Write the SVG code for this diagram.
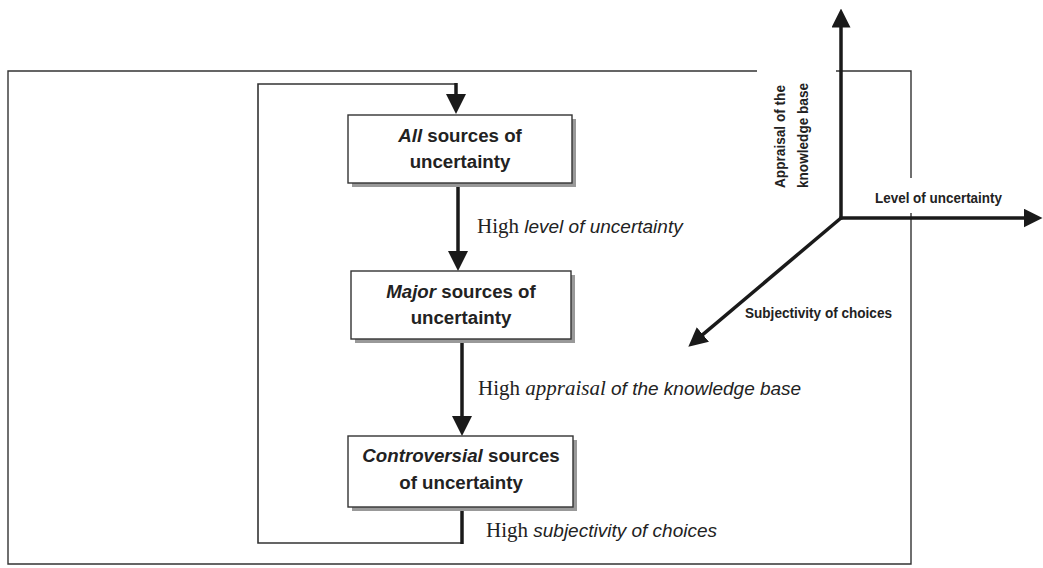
<svg xmlns="http://www.w3.org/2000/svg" width="1043" height="568" viewBox="0 0 1043 568">
<defs>
<marker id="ah" viewBox="0 0 20 20" refX="10" refY="10" markerWidth="20" markerHeight="20" markerUnits="userSpaceOnUse" orient="auto">
<path d="M0,0 L20,10 L0,20 z" fill="#1a1a1a"/>
</marker>
<marker id="ax" viewBox="0 0 20 20" refX="10" refY="10" markerWidth="19" markerHeight="19" markerUnits="userSpaceOnUse" orient="auto">
<path d="M0,0 L20,10 L0,20 z" fill="#1a1a1a"/>
</marker>
</defs>
<style>
.frame{fill:none;stroke:#333;stroke-width:1.4}
.loop{fill:none;stroke:#333;stroke-width:1.6}
.box{fill:#fff;stroke:#333;stroke-width:1.4}
.shadow{fill:#999;stroke:none}
.flow{fill:none;stroke:#1a1a1a;stroke-width:3.5}
.axis{fill:none;stroke:#1a1a1a;stroke-width:3.5}
.bt{font-family:"Liberation Sans",Arial,sans-serif;font-weight:bold;font-size:18.7px;fill:#222;text-anchor:middle}
.lab{font-family:"Liberation Sans",Arial,sans-serif;font-style:italic;font-size:19px;fill:#222}
.tm{font-family:"Liberation Serif","Times New Roman",serif;font-style:normal;font-size:21px}
.tmi{font-family:"Liberation Serif","Times New Roman",serif;font-style:italic;font-size:21px}
.ax{font-family:"Liberation Sans",Arial,sans-serif;font-weight:bold;font-size:15.5px;fill:#222}
</style>
<rect width="1043" height="568" fill="#fff"/>
<g id="frame">
<path class="frame" d="M757,71 H8 V564 H911 V213 M911,178 V71 H836"/>
</g>
<g id="connectors">
<path class="loop" d="M462,543 H258 V84 H457"/>
<line class="flow" x1="462" y1="507" x2="462" y2="544"/>
<line class="flow" x1="456" y1="83" x2="456" y2="104" marker-end="url(#ah)"/>
<line class="flow" x1="458" y1="183" x2="458" y2="261" marker-end="url(#ah)"/>
<line class="flow" x1="462" y1="339" x2="462" y2="426" marker-end="url(#ah)"/>
</g>
<g id="node-all">
<rect class="shadow" x="352" y="119" width="224" height="68"/>
<rect class="box" x="348" y="115" width="224" height="68"/>
<text class="bt" x="460" y="142"><tspan font-style="italic">All</tspan> sources of</text>
<text class="bt" x="460" y="168">uncertainty</text>
</g>
<g id="node-major">
<rect class="shadow" x="355" y="275" width="220" height="68"/>
<rect class="box" x="351" y="271" width="220" height="68"/>
<text class="bt" x="461" y="298"><tspan font-style="italic">Major</tspan> sources of</text>
<text class="bt" x="461" y="324">uncertainty</text>
</g>
<g id="node-controversial">
<rect class="shadow" x="352" y="440" width="225" height="71"/>
<rect class="box" x="348" y="436" width="225" height="71"/>
<text class="bt" x="461" y="462"><tspan font-style="italic">Controversial</tspan> sources</text>
<text class="bt" x="461" y="489">of uncertainty</text>
</g>
<g id="labels">
<text class="lab" x="477" y="233"><tspan class="tm">High </tspan>level of uncertainty</text>
<text class="lab" x="478" y="395"><tspan class="tm">High </tspan><tspan class="tmi">appraisal</tspan> of the knowledge base</text>
<text class="lab" x="486" y="537"><tspan class="tm">High </tspan>subjectivity of choices</text>
</g>
<g id="axes">
<line class="axis" x1="841" y1="219.5" x2="841" y2="18" marker-end="url(#ax)"/>
<line class="axis" x1="839.5" y1="218" x2="1033" y2="218" marker-end="url(#ax)"/>
<line class="axis" x1="841" y1="218" x2="695.6" y2="340.6" marker-end="url(#ax)"/>
<text class="ax" x="875" y="203" textLength="127" lengthAdjust="spacingAndGlyphs">Level of uncertainty</text>
<text class="ax" x="745" y="318" textLength="147" lengthAdjust="spacingAndGlyphs">Subjectivity of choices</text>
<g transform="translate(785,136) rotate(-90)">
<text class="ax" x="-52" y="0" textLength="103" lengthAdjust="spacingAndGlyphs">Appraisal of the</text>
<text class="ax" x="-52" y="23" textLength="105" lengthAdjust="spacingAndGlyphs">knowledge base</text>
</g>
</g>
</svg>
